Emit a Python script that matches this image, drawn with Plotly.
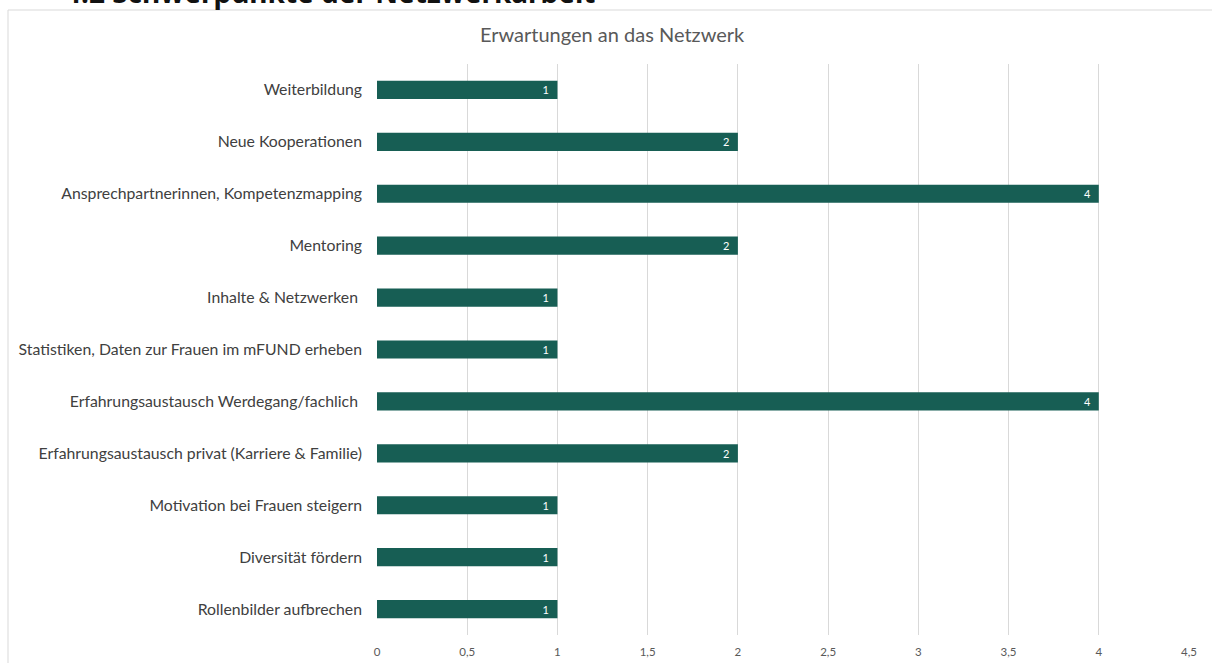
import plotly.graph_objects as go

categories = [
    "Weiterbildung",
    "Neue Kooperationen",
    "Ansprechpartnerinnen, Kompetenzmapping",
    "Mentoring",
    "Inhalte & Netzwerken ",
    "Statistiken, Daten zur Frauen im mFUND erheben",
    "Erfahrungsaustausch Werdegang/fachlich ",
    "Erfahrungsaustausch privat (Karriere & Familie)",
    "Motivation bei Frauen steigern",
    "Diversität fördern",
    "Rollenbilder aufbrechen",
]
values = [1, 2, 4, 2, 1, 1, 4, 2, 1, 1, 1]

chart_title = "Erwartungen an das Netzwerk"
heading = "4.2 Schwerpunkte der Netzwerkarbeit"

W, H = 1212, 663
L, R, T, B = 377, 23, 64, 28
pw, ph = W - L - R, H - T - B

def px_x(x):
    return (x - L) / pw

def px_y(y):
    return (H - B - y) / ph

fig = go.Figure(go.Bar(
    x=values,
    y=categories,
    orientation="h",
    marker=dict(color="#175e54", line=dict(width=0)),
    width=0.35,
    text=values,
    texttemplate="%{x}\u2002",
    textposition="inside",
    insidetextanchor="end",
    textangle=0,
    constraintext="none",
    textfont=dict(color="white", size=11, family="Lato"),
    hoverinfo="skip",
))

fig.update_layout(
    width=W, height=H,
    margin=dict(l=L, r=R, t=T, b=B, pad=0, autoexpand=False),
    paper_bgcolor="white",
    plot_bgcolor="white",
    separators=", ",
    showlegend=False,
    font=dict(family="Lato", color="#404040"),
    title=dict(text=chart_title, x=0.505, xanchor="center",
               y=1 - 35 / H, yanchor="middle",
               font=dict(size=20, color="#595959", family="Lato")),
    xaxis=dict(range=[0, 4.5], dtick=0.5, tick0=0, showgrid=True,
               gridcolor="#d9d9d9", gridwidth=1, zeroline=False,
               showline=False, ticks="", ticklabelstandoff=8,
               tickfont=dict(size=11.5, color="#595959"),
               automargin=False, fixedrange=True),
    yaxis=dict(autorange="reversed", showgrid=False, zeroline=False,
               showline=False, ticks="", ticklabelstandoff=14,
               tickfont=dict(size=15.8, color="#404040"),
               automargin=False, fixedrange=True),
    shapes=[dict(type="rect", xref="paper", yref="paper",
                 x0=px_x(8), x1=px_x(1240), y0=px_y(700), y1=px_y(10),
                 line=dict(color="#d9d9d9", width=1), layer="below")],
    annotations=[dict(text="<b>" + heading + "</b>", xref="paper", yref="paper",
                      x=px_x(63), y=px_y(13), xanchor="left", yanchor="bottom",
                      showarrow=False,
                      font=dict(size=28, color="#111111", family="Noto Sans"))],
)

fig.write_html(
    "out.html",
    config={"displayModeBar": False, "staticPlot": True},
    post_script="document.body.style.margin='0';document.body.style.overflow='hidden';",
)
